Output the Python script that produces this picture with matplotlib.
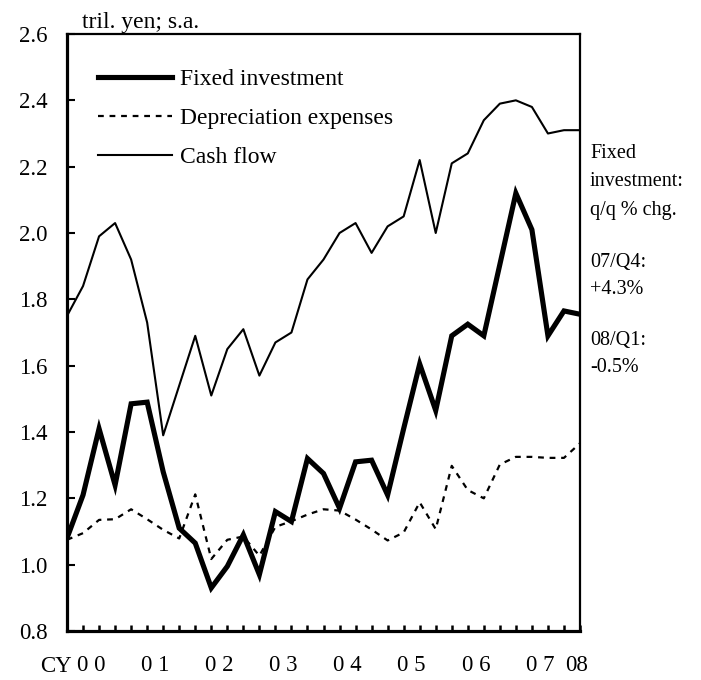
import numpy as np
import matplotlib
matplotlib.use("Agg")
import matplotlib.pyplot as plt
from matplotlib.ticker import MultipleLocator

# quarterly, 2000/Q1 .. 2008/Q1
fixed_investment = [1.08, 1.21, 1.41, 1.24, 1.485, 1.49, 1.28, 1.11, 1.065, 0.93,
                    0.995, 1.09, 0.97, 1.16, 1.13, 1.32, 1.275, 1.17, 1.31, 1.315,
                    1.21, 1.41, 1.605, 1.465, 1.69, 1.725, 1.69, 1.905, 2.12, 2.01,
                    1.69, 1.765, 1.755]
depreciation = [1.075, 1.095, 1.135, 1.137, 1.167, 1.137, 1.105, 1.079, 1.212, 1.017,
                 1.075, 1.085, 1.027, 1.114, 1.131, 1.151, 1.167, 1.163, 1.136, 1.106,
                 1.073, 1.097, 1.188, 1.107, 1.298, 1.225, 1.200, 1.302, 1.325, 1.325,
                 1.322, 1.322, 1.366]
cash_flow = [1.75, 1.84, 1.99, 2.03, 1.92, 1.73, 1.39, 1.54, 1.69, 1.51,
             1.65, 1.71, 1.57, 1.67, 1.70, 1.86, 1.92, 2.00, 2.03, 1.94,
             2.02, 2.05, 2.22, 2.00, 2.21, 2.24, 2.34, 2.39, 2.40, 2.38,
             2.30, 2.31, 2.31]
year_labels = ["0 0", "0 1", "0 2", "0 3", "0 4", "0 5", "0 6", "0 7", "08"]
year_pos = [1.5, 5.5, 9.5, 13.5, 17.5, 21.5, 25.5, 29.5, 31.8]
notes = ["Fixed", "investment:", "q/q % chg.", "07/Q4:", "+4.3%", "08/Q1:", "-0.5%"]

plt.rcParams['font.family'] = ['Liberation Serif', 'DejaVu Serif']
W, H = 701, 680
fig = plt.figure(figsize=(W / 100, H / 100), dpi=100)
ax = fig.add_axes([67 / W, 1 - 631 / H, (580 - 67) / W, (631 - 34) / H])

x = np.arange(len(cash_flow))
ax.plot(x, fixed_investment, color='black', lw=3.7, solid_joinstyle='miter',
        label='Fixed investment')
ax.plot(x, depreciation, color='black', lw=1.6, linestyle=(0, (2.6, 2.6)),
        label='Depreciation expenses')
ax.plot(x, cash_flow, color='black', lw=1.5, label='Cash flow')

ax.set_xlim(0, 32)
ax.set_ylim(0.8, 2.6)
ax.yaxis.set_major_locator(MultipleLocator(0.2))
ax.yaxis.set_major_formatter(matplotlib.ticker.FormatStrFormatter('%.1f'))
ax.tick_params(axis='y', direction='in', length=6, width=1.5, pad=14, labelsize=16.5)

ax.set_xticks(year_pos)
ax.set_xticklabels(year_labels)
ax.set_xticks(np.arange(0, 33), minor=True)
ax.tick_params(axis='x', which='major', length=0, pad=17, labelsize=16.5)
ax.tick_params(axis='x', which='minor', direction='in', length=4, width=1.8)

for side in ['left', 'bottom']:
    ax.spines[side].set_linewidth(2.3)
for side in ['top', 'right']:
    ax.spines[side].set_linewidth(1.6)

ax.legend(loc='upper left', bbox_to_anchor=(0.06, 0.9415), frameon=False,
          fontsize=17, handlelength=3.15, handletextpad=0.33, labelspacing=0.73,
          borderaxespad=0, borderpad=0)

fig.text(82 / W, 1 - 28 / H, "tril. yen; s.a.", fontsize=17, va='baseline')
fig.text(72 / W, 1 - 666 / H, "CY", fontsize=16.5, ha='right', va='center')

note_y = [153, 182, 211, 262, 290, 340, 367]
for txt, yp in zip(notes, note_y):
    fig.text(590 / W, 1 - yp / H, txt, fontsize=14.5, va='center')

fig.savefig("out.png", dpi=100)
